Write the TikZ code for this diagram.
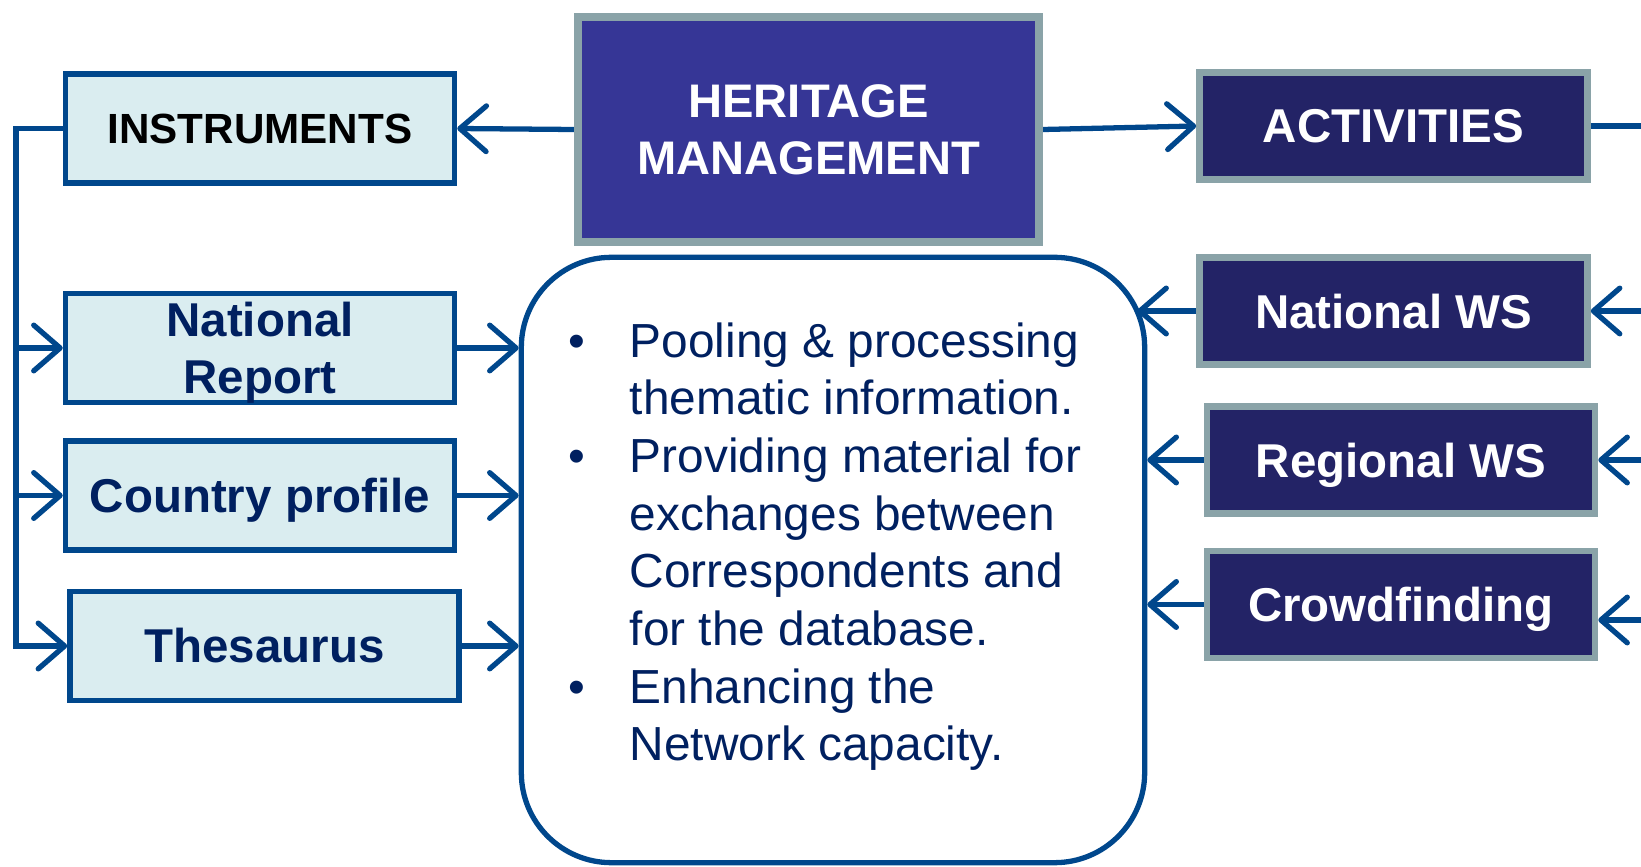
\documentclass[tikz,border=0pt]{standalone}
\usepackage{fontspec}
\setmainfont{Liberation Sans}
\usetikzlibrary{arrows.meta}

\definecolor{lineblue}{RGB}{0,71,140}
\definecolor{paleblue}{RGB}{218,237,240}
\definecolor{navytext}{RGB}{0,32,96}
\definecolor{darkbox}{RGB}{35,35,102}
\definecolor{greyedge}{RGB}{138,163,168}
\definecolor{heritagefill}{RGB}{54,54,150}

\tikzset{
	toolbox/.style={draw=lineblue, line width=1.5pt, fill=paleblue, minimum width=3.89cm, minimum height=1.09cm, inner sep=0pt, align=center, text=navytext, font=\fontsize{13.5}{16.2}\selectfont\bfseries},
	actbox/.style={draw=greyedge, line width=1.8pt, fill=darkbox, minimum width=3.88cm, minimum height=1.07cm, inner sep=0pt, text depth=0pt, text=white, font=\fontsize{13.5}{16.2}\selectfont\bfseries},
	link/.style={draw=lineblue, line width=1.5pt},
	arr/.style={link, -{Straight Barb[length=7.5pt,width=13pt,round]}}
}

\begin{document}
\begin{tikzpicture}[x=0.01cm, y=-0.01cm]
		\useasboundingbox (0,0) rectangle (1641,867);
		
		\node[draw=greyedge, line width=2.3pt, fill=heritagefill, minimum width=4.61cm, minimum height=2.25cm, inner sep=0pt, align=center, text=white, font=\fontsize{13.4}{16.2}\selectfont\bfseries] (heritage) at (808.5,129.5) {HERITAGE\\MANAGEMENT};
		
		\node[toolbox, text=black, font=\fontsize{12}{14}\selectfont\bfseries] (instr) at (260,128.5) {INSTRUMENTS};
		\node[toolbox, text depth=0pt] (natrep) at (260,348) {National\\Report};
		\node[toolbox, text depth=0pt] (country) at (260,495.5) {Country profile};
		\node[toolbox] (thes) at (264.5,646) {Thesaurus};
		
		\node[actbox] (activ) at (1393.5,126) {ACTIVITIES};
		\node[actbox] (natws) at (1393.5,311) {National WS};
		\node[actbox] (regws) at (1401,460) {Regional WS};
		\node[actbox] (crowd) at (1401,604.5) {Crowdfinding};
		
		\node[draw=lineblue, line width=1.5pt, rounded corners=0.9cm, minimum width=6.23cm, minimum height=6.05cm] (note) at (833,560) {};
		\node[anchor=north west, inner sep=0pt, text=navytext, font=\fontsize{13.6}{16.4}\selectfont] (points) at (568,316) {%
			\begin{tabular}{@{}p{0.61cm}@{}l@{}}
				\textbullet & Pooling \& processing\\
				& thematic information.\\
				\textbullet & Providing material for\\
				& exchanges between\\
				& Correspondents and\\
				& for the database.\\
				\textbullet & Enhancing the\\
				& Network capacity.
			\end{tabular}};
		
		\coordinate (bus) at (16,128.5);
		\coordinate (actout) at (1641,126);
		\coordinate (natin) at (1641,311);
		\coordinate (regin) at (1641,460);
		\coordinate (crowdin) at (1641,620);
		
		\draw[arr] (heritage.west) -- (instr.east);
		\draw[arr] (heritage.east) -- (activ.west);
		\draw[link] (activ.east) -- (actout);
		
		\draw[arr] (instr.west) -- (bus) |- (thes.west);
		\draw[arr] (bus |- natrep.west) -- (natrep.west);
		\draw[arr] (bus |- country.west) -- (country.west);
		
		\draw[arr] (natrep.east) -- (natrep.east -| note.west);
		\draw[arr] (country.east) -- (country.east -| note.west);
		\draw[arr] (thes.east) -- (thes.east -| note.west);
		
		\draw[arr] (natws.west) -- ++(-59,0);
		\draw[arr] (regws.west) -- (regws.west -| note.east);
		\draw[arr] (crowd.west) -- (crowd.west -| note.east);
		
		\draw[arr] (natin) -- (natws.east);
		\draw[arr] (regin) -- (regws.east);
		\draw[arr] (crowdin) -- (crowdin -| crowd.east);
	\end{tikzpicture}
\end{document}
